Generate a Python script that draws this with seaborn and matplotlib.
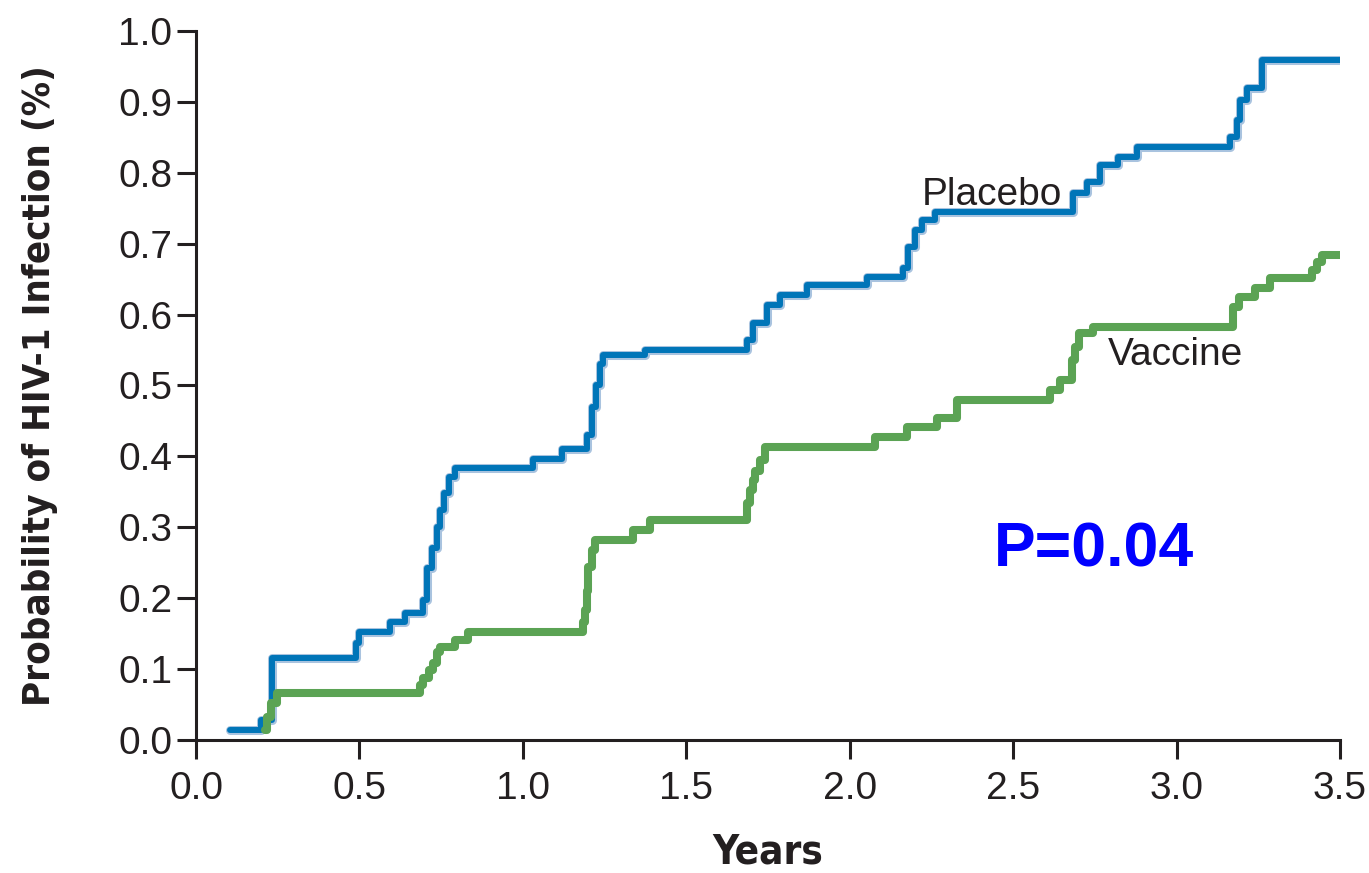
import numpy as np
import matplotlib
matplotlib.use("Agg")
import matplotlib.pyplot as plt
import pandas as pd
import seaborn as sns

# step points (value holds until next time)
placebo_years = [0.104, 0.2, 0.232, 0.49, 0.50, 0.593, 0.64, 0.694, 0.707, 0.722, 0.737, 0.746,
                 0.759, 0.774, 0.792, 1.03, 1.12, 1.195, 1.21, 1.225, 1.235, 1.245, 1.373,
                 1.686, 1.705, 1.746, 1.786, 1.87, 2.052, 2.163, 2.178, 2.2, 2.22, 2.26,
                 2.683, 2.725, 2.765, 2.82, 2.878, 3.163, 3.184, 3.193, 3.215, 3.26, 3.5]
placebo_prob = [0.014, 0.028, 0.115, 0.137, 0.152, 0.166, 0.179, 0.197, 0.243, 0.271, 0.30, 0.324,
                0.348, 0.371, 0.383, 0.396, 0.41, 0.43, 0.47, 0.50, 0.53, 0.543, 0.55,
                0.564, 0.588, 0.613, 0.628, 0.642, 0.653, 0.666, 0.695, 0.719, 0.733, 0.745,
                0.771, 0.787, 0.811, 0.822, 0.836, 0.85, 0.874, 0.903, 0.92, 0.959, 0.959]

vaccine_years = [0.211, 0.217, 0.23, 0.248, 0.685, 0.695, 0.713, 0.725, 0.737, 0.746, 0.792, 0.832,
                 1.184, 1.19, 1.196, 1.2, 1.21, 1.22, 1.337, 1.389, 1.686, 1.695, 1.703, 1.71,
                 1.725, 1.74, 2.077, 2.175, 2.267, 2.328, 2.612, 2.643, 2.68, 2.69, 2.70, 2.744,
                 3.172, 3.19, 3.24, 3.285, 3.414, 3.43, 3.445, 3.5]
vaccine_prob = [0.014, 0.032, 0.052, 0.066, 0.078, 0.087, 0.099, 0.108, 0.124, 0.131, 0.141, 0.152,
                0.166, 0.183, 0.21, 0.244, 0.268, 0.282, 0.296, 0.31, 0.334, 0.353, 0.367, 0.38,
                0.395, 0.413, 0.427, 0.441, 0.454, 0.48, 0.494, 0.508, 0.536, 0.554, 0.574, 0.583,
                0.611, 0.625, 0.637, 0.652, 0.663, 0.674, 0.684, 0.684]

x_ticks = [0.0, 0.5, 1.0, 1.5, 2.0, 2.5, 3.0, 3.5]
y_ticks = [0.0, 0.1, 0.2, 0.3, 0.4, 0.5, 0.6, 0.7, 0.8, 0.9, 1.0]

placebo_df = pd.DataFrame({"Years": placebo_years, "Prob": placebo_prob})
vaccine_df = pd.DataFrame({"Years": vaccine_years, "Prob": vaccine_prob})

sns.set_style("ticks")
plt.rcParams["font.family"] = ["Liberation Sans", "DejaVu Sans"]
ink = "#231F20"

fig = plt.figure(figsize=(13.69, 8.73), dpi=100)
ax = fig.add_axes([0.1432, 0.1524, 0.8356, 0.8121])

# light halo under the placebo line, like the scanned curve
sns.lineplot(x="Years", y="Prob", data=placebo_df, ax=ax, color="#A9C3DF",
             linewidth=6.5, drawstyle="steps-post", estimator=None, sort=False)
sns.lineplot(x="Years", y="Prob", data=placebo_df, ax=ax, color="#0075B8",
             linewidth=4.3, drawstyle="steps-post", estimator=None, sort=False)
sns.lineplot(x="Years", y="Prob", data=vaccine_df, ax=ax, color="#5BA354",
             linewidth=5.8, drawstyle="steps-post", estimator=None, sort=False)

ax.set_xlim(0, 3.5)
ax.set_ylim(0, 1.0)
ax.set_xticks(x_ticks)
ax.set_yticks(y_ticks)
ax.set_xticklabels([f"{t:.1f}" for t in x_ticks])
ax.set_yticklabels([f"{t:.1f}" for t in y_ticks])
ax.tick_params(axis="both", direction="out", length=14, width=2.2, color=ink,
               labelsize=28, labelcolor=ink)
ax.tick_params(axis="y", pad=3)
ax.tick_params(axis="x", pad=8)

sns.despine(ax=ax)
for side in ["left", "bottom"]:
    ax.spines[side].set_linewidth(2.2)
    ax.spines[side].set_color(ink)

ax.set_xlabel("Years", fontsize=29, fontweight="bold", family="DejaVu Sans",
              fontstretch="condensed", color=ink, va="center")
ax.set_ylabel("Probability of HIV-1 Infection (%)", fontsize=27.5, fontweight="bold",
              family="DejaVu Sans", fontstretch="condensed", color=ink, va="center")
ax.xaxis.set_label_coords(0.5, -0.159)
ax.yaxis.set_label_coords(-0.136, 0.5)

ax.text(2.221, 0.7546, "Placebo", fontsize=28, color=ink, va="baseline", ha="left")
ax.text(2.790, 0.529, "Vaccine", fontsize=28, color=ink, va="baseline", ha="left")
ax.text(2.747, 0.244, "P=0.04", fontsize=45, fontweight="bold", color="#0000FF",
        va="baseline", ha="center")

fig.savefig("out.png", dpi=100)
